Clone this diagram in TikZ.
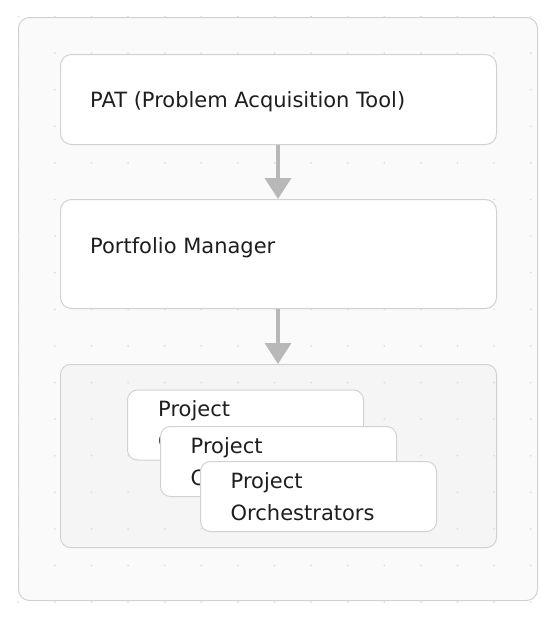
\documentclass[tikz,border=0pt]{standalone}
\usepackage{fontspec}
\setmainfont{DejaVu Sans}
\usetikzlibrary{arrows.meta, positioning}
\definecolor{pagebg}{RGB}{250,250,250}
\definecolor{groupbg}{RGB}{245,245,245}
\definecolor{edgegray}{RGB}{210,210,210}
\definecolor{dotgray}{RGB}{222,222,222}
\definecolor{arrowgray}{RGB}{184,184,184}
\definecolor{txtdark}{RGB}{30,30,30}
\tikzset{
  panel/.style={rectangle, draw=edgegray, fill=pagebg, line width=1pt,
    rounded corners=11pt, anchor=north west, inner sep=0pt},
  group/.style={rectangle, draw=edgegray, fill=groupbg, line width=1pt,
    rounded corners=10pt, anchor=north west, inner sep=0pt},
  block/.style={rectangle, draw=edgegray, fill=white, line width=1pt,
    rounded corners=11pt, anchor=north west, inner sep=0pt,
    minimum width=436pt},
  card/.style={rectangle, draw=edgegray, fill=white, line width=1pt,
    rounded corners=10pt, anchor=north west, inner sep=0pt,
    minimum width=236pt, minimum height=70pt},
  lbl/.style={anchor=base west, inner sep=0pt, font=\fontsize{21}{32}\selectfont,
    text=txtdark, align=left},
  flow/.style={-{Triangle[length=21pt, width=26pt]}, line width=3.6pt, color=arrowgray}
}
\begin{document}
\begin{tikzpicture}[x=1pt, y=-1pt]
  \useasboundingbox (0,0) rectangle (558,624);

  % Background panels
  \node[panel, minimum width=519pt, minimum height=583pt] (canvas) at (18,17) {};
  \node[group, minimum width=436pt, minimum height=183pt] (agents) at (60,364) {};

  % Dot grid
  \foreach \i in {0,...,14}
    \foreach \j in {0,...,16}
      \fill[dotgray] (18.3+36.6*\i, 16.5+36.6*\j) circle (1pt);

  % PAT
  \node[block, minimum height=90pt] (pat) at (60,54) {};
  \node[lbl] (pattext) at (90,107.3) {PAT (Problem Acquisition Tool)};

  % Portfolio Manager
  \node[block, minimum height=109pt] (pm) at (60,199) {};
  \node[lbl] (pmtext) at (90,253.3) {Portfolio Manager};

  % Stacked orchestrators (base = last line)
  \node[card] (orchA) at (127,389.5) {};
  \node[lbl] (orchAtext) at (158,448.7) {Project\\Orchestrators};
  \node[card] (orchB) at (160,426) {};
  \node[lbl] (orchBtext) at (190.5,485.3) {Project\\Orchestrators};
  \node[card] (orchC) at (200,461) {};
  \node[lbl] (orchCtext) at (230.5,520.3) {Project\\Orchestrators};

  % Flow
  \draw[flow] (pat.south -| 278,0) -- (pm.north -| 278,0);
  \draw[flow] (pm.south -| 278,0) -- (agents.north -| 278,0);
\end{tikzpicture}
\end{document}
